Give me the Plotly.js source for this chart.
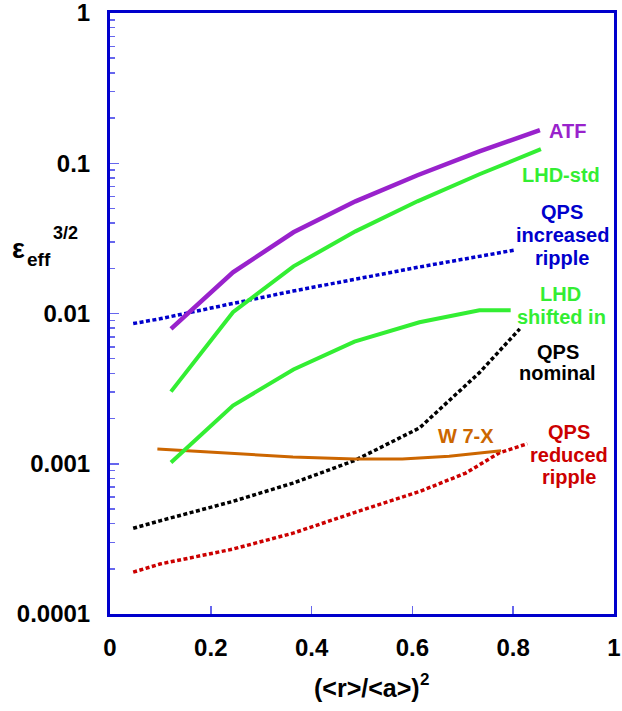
<!DOCTYPE html>
<html>
<head>
<meta charset="utf-8">
<script src="https://cdn.plot.ly/plotly-3.0.1.min.js"></script>
<style>html,body{margin:0;padding:0;background:#fff;}#chart{width:622px;height:711px;}</style>
</head>
<body>
<div id="chart"></div>
<script>
// ---- data ----
const atfX = [0.121, 0.244, 0.364, 0.487, 0.610, 0.733, 0.853];
const atfY = [0.0079, 0.0188, 0.0347, 0.0558, 0.0832, 0.120, 0.166];

const lhdStdX = [0.121, 0.244, 0.364, 0.487, 0.610, 0.733, 0.855];
const lhdStdY = [0.00302, 0.0102, 0.0206, 0.0352, 0.0558, 0.0845, 0.124];

const lhdShiftX = [0.121, 0.244, 0.364, 0.485, 0.614, 0.733, 0.795];
const lhdShiftY = [0.00102, 0.00244, 0.00424, 0.0065, 0.00875, 0.0105, 0.0105];

const qpsIncX = [0.046, 0.099, 0.244, 0.363, 0.485, 0.614, 0.802];
const qpsIncY = [0.00857, 0.00922, 0.01167, 0.0141, 0.01687, 0.0204, 0.0264];

const qpsNomX = [0.046, 0.099, 0.243, 0.363, 0.485, 0.614, 0.733, 0.813];
const qpsNomY = [0.000372, 0.000417, 0.000561, 0.000743, 0.00105, 0.00173, 0.00404, 0.0079];

const qpsRedX = [0.046, 0.099, 0.243, 0.363, 0.485, 0.614, 0.706, 0.772, 0.828];
const qpsRedY = [0.00019, 0.000215, 0.00027, 0.000345, 0.000473, 0.000653, 0.000867, 0.00118, 0.00136];

const w7xX = [0.094, 0.243, 0.363, 0.485, 0.580, 0.673, 0.776];
const w7xY = [0.001253, 0.001178, 0.001109, 0.001074, 0.001074, 0.00112, 0.00122];

const xTickVals = [0, 0.2, 0.4, 0.6, 0.8, 1];
const xTickText = ['0', '0.2', '0.4', '0.6', '0.8', '1'];
const yTickVals = [0.0001, 0.001, 0.01, 0.1, 1];
const yTickText = ['0.0001', '0.001', '0.01', '0.1', '1'];

// labels: [text, x, log10(y), colour]
const labels = [
  ['ATF', 0.907, -0.787, '#9922cc'],
  ['LHD-std', 0.895, -1.08, '#33ee33'],
  ['QPS', 0.897, -1.325, '#0000cc'],
  ['increased', 0.897, -1.48, '#0000cc'],
  ['ripple', 0.897, -1.629, '#0000cc'],
  ['LHD', 0.893, -1.869, '#33ee33'],
  ['shifted in', 0.895, -2.022, '#33ee33'],
  ['QPS', 0.888, -2.258, '#000000'],
  ['nominal', 0.888, -2.395, '#000000'],
  ['W 7-X', 0.706, -2.813, '#cc6600'],
  ['QPS', 0.911, -2.791, '#cc0000'],
  ['reduced', 0.911, -2.94, '#cc0000'],
  ['ripple', 0.911, -3.085, '#cc0000']
];

// axis title pieces: [text, px x centre, px y centre, size]
const titleParts = [
  ['ε', 18, 249, 27],
  ['eff', 39, 259, 19],
  ['3/2', 65, 233, 18],
  ['(&lt;r&gt;/&lt;a&gt;)', 367, 688, 25],
  ['2', 424, 680, 17]
];

const F = 'Arial, "Liberation Sans", sans-serif';

function tr(x, y, color, dash, width) {
  return {x: x, y: y, type: 'scatter', mode: 'lines', showlegend: false,
    line: {color: color, width: width, dash: dash}, hoverinfo: 'skip'};
}

const data = [
  tr(qpsIncX, qpsIncY, '#0000cc', '4px,2.5px', 3.5),
  tr(qpsNomX, qpsNomY, '#000000', '4px,2.5px', 3.5),
  tr(qpsRedX, qpsRedY, '#cc0000', '4px,2.5px', 3.5),
  tr(w7xX, w7xY, '#cc6600', 'solid', 3),
  tr(lhdShiftX, lhdShiftY, '#33ee33', 'solid', 4),
  tr(lhdStdX, lhdStdY, '#33ee33', 'solid', 4),
  tr(atfX, atfY, '#9922cc', 'solid', 4.5)
];

const annotations = labels.map(l => ({
  text: l[0], x: l[1], y: l[2], xref: 'x', yref: 'y', showarrow: false,
  xanchor: 'center', yanchor: 'middle',
  font: {family: F, size: 20, color: l[3], weight: 'bold'}
}));

const L = 110, T = 13, PW = 504, PH = 601;
titleParts.forEach(p => annotations.push({
  text: p[0], xref: 'paper', yref: 'paper',
  x: (p[1] - L) / PW, y: (T + PH - p[2]) / PH, xanchor: 'center', yanchor: 'middle',
  showarrow: false, font: {family: F, size: p[3], color: '#000', weight: 'bold'}
}));

const layout = {
  width: 622, height: 711,
  margin: {l: 110, r: 8, t: 13, b: 97},
  paper_bgcolor: '#fff', plot_bgcolor: '#fff',
  showlegend: false,
  xaxis: {
    range: [0, 1], tickvals: xTickVals, ticktext: xTickText,
    ticks: 'inside', ticklen: 8, tickwidth: 1.5, tickcolor: '#6666ee',
    showline: true, mirror: true, linecolor: '#0000cc', linewidth: 3,
    showgrid: false, zeroline: false, ticklabelstandoff: 10,
    ticklabeloverflow: 'allow',
    tickfont: {family: F, size: 24, color: '#000', weight: 'bold'}
  },
  yaxis: {
    type: 'log', range: [-4, 0], tickvals: yTickVals, ticktext: yTickText,
    ticks: 'inside', ticklen: 9, tickwidth: 1.5, tickcolor: '#6666ee',
    minor: {ticks: 'inside', ticklen: 5, tickwidth: 1.5, tickcolor: '#6666ee', dtick: 'D1', showgrid: false},
    showline: true, mirror: true, linecolor: '#0000cc', linewidth: 3,
    showgrid: false, zeroline: false, ticklabelstandoff: 12,
    ticklabeloverflow: 'allow',
    tickfont: {family: F, size: 24, color: '#000', weight: 'bold'}
  },
  annotations: annotations
};

Plotly.newPlot('chart', data, layout, {displayModeBar: false, staticPlot: true});
</script>
</body>
</html>
